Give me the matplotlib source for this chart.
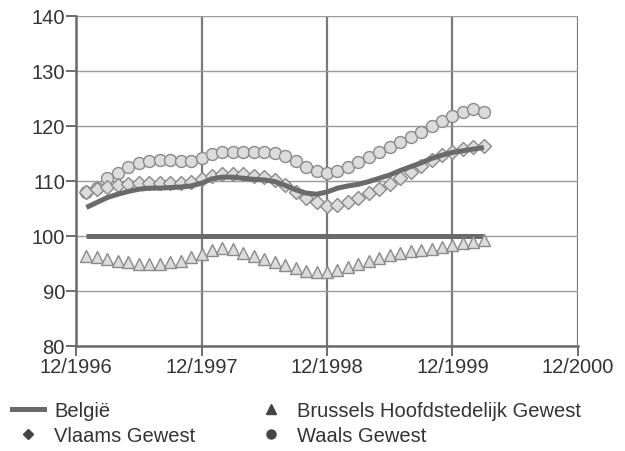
import numpy as np
import matplotlib
matplotlib.use("Agg")
import matplotlib.pyplot as plt
from matplotlib.lines import Line2D

# === Data: monthly index, Jan 1997 - Mar 2000 ===
months = np.arange(1, 40)  # months after 12/1996

belgie = [100.0] * 39

vlaams = [108.0, 108.5, 109.0, 109.3, 109.5, 109.6, 109.6, 109.6, 109.6, 109.6,
          109.8, 110.3, 111.0, 111.3, 111.3, 111.2, 111.0, 110.7, 110.1, 109.2,
          108.0, 107.0, 106.2, 105.5, 105.7, 106.2, 106.9, 107.8, 108.6, 109.5,
          110.6, 111.7, 112.7, 113.8, 114.7, 115.3, 115.8, 116.1, 116.4]

trend = [105.2, 106.1, 107.0, 107.6, 108.1, 108.5, 108.7, 108.7, 108.8, 108.9,
         109.1, 109.6, 110.4, 110.7, 110.7, 110.5, 110.3, 110.2, 109.9, 109.2,
         108.4, 107.8, 107.6, 108.0, 108.7, 109.1, 109.4, 109.9, 110.5, 111.1,
         111.9, 112.6, 113.3, 114.1, 114.7, 115.2, 115.5, 115.8, 116.1]

brussel = [96.4, 96.1, 95.8, 95.5, 95.2, 95.0, 94.9, 95.0, 95.2, 95.5,
           96.1, 96.7, 97.4, 97.8, 97.6, 97.0, 96.4, 95.8, 95.3, 94.7,
           94.1, 93.7, 93.4, 93.4, 93.8, 94.4, 95.0, 95.5, 96.0, 96.5,
           96.9, 97.2, 97.5, 97.7, 98.0, 98.3, 98.7, 99.0, 99.2]

waals = [108.0, 108.8, 110.5, 111.5, 112.5, 113.2, 113.7, 113.9, 113.8, 113.7,
         113.7, 114.2, 114.9, 115.2, 115.3, 115.3, 115.3, 115.3, 115.1, 114.6,
         113.7, 112.6, 111.9, 111.5, 111.8, 112.6, 113.5, 114.4, 115.3, 116.2,
         117.1, 118.0, 119.0, 120.0, 120.9, 121.8, 122.6, 123.1, 122.6]

year_ticks = [0, 12, 24, 36, 48]
year_labels = ["12/1996", "12/1997", "12/1998", "12/1999", "12/2000"]

# === Plot ===
plt.rcParams["font.family"] = ["Liberation Sans", "DejaVu Sans"]
fig = plt.figure(figsize=(6.25, 4.52), dpi=100)
ax = fig.add_axes([76 / 625, 1 - 347 / 452, 502 / 625, 330 / 452])

line_col = "#6a6a6a"
fill_col = "#dcdcdc"
edge_col = "#8a8a8a"

ax.plot(months, waals, linestyle="none", marker="o", markersize=8.6,
        markerfacecolor=fill_col, markeredgecolor=edge_col, markeredgewidth=1.0, zorder=3)
ax.plot(months, vlaams, linestyle="none", marker="D", markersize=7,
        markerfacecolor=fill_col, markeredgecolor=edge_col, markeredgewidth=1.0, zorder=4)
ax.plot(months, trend, color=line_col, linewidth=3.6, solid_capstyle="butt", zorder=5)
ax.plot(months, belgie, color=line_col, linewidth=3.6, solid_capstyle="butt", zorder=5)
ax.plot(months, brussel, linestyle="none", marker="^", markersize=8.6,
        markerfacecolor=fill_col, markeredgecolor=edge_col, markeredgewidth=1.0, zorder=6)

ax.set_xlim(0, 48)
ax.set_ylim(80, 140)
ax.set_xticks(year_ticks)
ax.set_xticklabels(year_labels)
ax.set_yticks(range(80, 141, 10))

# grid: thin horizontal, heavier vertical
ax.grid(axis="y", color="#9a9a9a", linewidth=1.0)
ax.grid(axis="x", color="#7a7a7a", linewidth=1.6)
ax.set_axisbelow(True)
for side in ["top", "right"]:
    ax.spines[side].set_visible(False)
ax.spines["left"].set_color("#6a6a6a")
ax.spines["left"].set_linewidth(1.8)
ax.spines["bottom"].set_color("#6a6a6a")
ax.spines["bottom"].set_linewidth(1.8)
ax.tick_params(axis="both", labelsize=14.5, colors="#555555", labelcolor="#333333",
               length=7, width=1.2, pad=1)

# === Legend ===
handles = [
    Line2D([], [], color=line_col, linewidth=3.6),
    Line2D([], [], linestyle="none", marker="D", markersize=5, color="#444444"),
    Line2D([], [], linestyle="none", marker="^", markersize=6.5, color="#444444"),
    Line2D([], [], linestyle="none", marker="o", markersize=6.5, color="#444444"),
]
labels = ["België", "Vlaams Gewest", "Brussels Hoofdstedelijk Gewest", "Waals Gewest"]
leg = fig.legend(handles, labels, ncol=2, loc="upper left",
                 bbox_to_anchor=(12 / 625, 1 - 402 / 452), frameon=False,
                 fontsize=14.5, handlelength=1.6, handletextpad=0.5,
                 columnspacing=2.95, labelspacing=0.32, borderpad=0, borderaxespad=0)
for t in leg.get_texts():
    t.set_color("#333333")

plt.savefig("out.png", dpi=100)
